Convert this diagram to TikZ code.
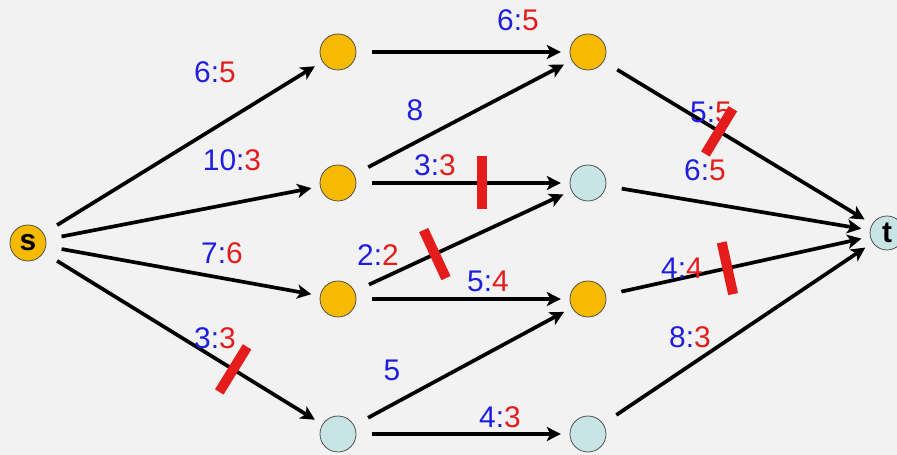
\documentclass[tikz,border=0pt]{standalone}
\usepackage{fontspec}
\setmainfont{Liberation Sans}
\usetikzlibrary{arrows.meta}
\definecolor{capblue}{RGB}{30,30,220}
\definecolor{flowred}{RGB}{228,28,28}
\definecolor{fullvx}{RGB}{246,186,0}
\definecolor{freevx}{RGB}{200,228,228}
\definecolor{paper}{RGB}{242,242,242}
\newcommand{\fl}[2]{\textcolor{capblue}{#1:}\textcolor{flowred}{#2}}
\tikzset{>={Stealth[length=8pt,width=8pt,inset=2pt]},font=\fontsize{17}{20}\selectfont}

\begin{document}
\begin{tikzpicture}[
  vx/.style={circle,draw=black!75,thin,minimum size=0.72cm,inner sep=0pt},
  hit/.style={vx,fill=fullvx},
  miss/.style={vx,fill=freevx},
  arc/.style={->,line width=2.1pt,shorten <=9pt,shorten >=5pt},
  cut/.style={sloped,fill=flowred,minimum width=0.2cm,minimum height=1.06cm,inner sep=0pt},
  lbl/.style={inner sep=1pt}]
\fill[paper] (0,0) rectangle (17.94,-9.1);
\useasboundingbox (0,0) rectangle (17.94,-9.1);

% vertices
\node[hit] (s) at (0.56,-4.86) {\bfseries s};
\node[hit] (a1) at (6.76,-1.04) {};
\node[hit] (a2) at (6.76,-3.66) {};
\node[hit] (a3) at (6.76,-5.98) {};
\node[miss] (a4) at (6.76,-8.68) {};
\node[hit] (b1) at (11.76,-1.04) {};
\node[miss] (b2) at (11.76,-3.66) {};
\node[hit] (b3) at (11.76,-5.98) {};
\node[miss] (b4) at (11.76,-8.68) {};
\node[miss,minimum size=0.68cm] (t) at (17.74,-4.66) {\bfseries t};

% arcs
\path[arc] (s) edge (a1);
\path[arc] (s) edge (a2);
\path[arc] (s) edge (a3);
\path[arc] (s) edge node[cut,pos=0.68] {} (a4);
\path[arc] (a1) edge (b1);
\path[arc] (a2) edge (b1);
\path[arc] (a2) edge node[cut,pos=0.59] {} (b2);
\path[arc] (a3) edge node[cut,pos=0.37] {} (b2);
\path[arc] (a3) edge (b3);
\path[arc] (a4) edge (b3);
\path[arc] (a4) edge (b4);
\path[arc] (b1) edge node[cut,pos=0.43] {} (t);
\path[arc] (b2) edge (t);
\path[arc] (b3) edge node[cut,pos=0.46] {} (t);
\path[arc] (b4) edge (t);

% capacity : flow
\node[lbl] (f1) at (4.30,-1.44) {\fl{6}{5}};
\node[lbl] (f2) at (4.64,-3.20) {\fl{10}{3}};
\node[lbl] (f3) at (4.44,-5.06) {\fl{7}{6}};
\node[lbl] (f4) at (4.30,-6.76) {\fl{3}{3}};
\node[lbl] (f5) at (10.36,-0.40) {\fl{6}{5}};
\node[lbl,text=capblue] (f6) at (8.30,-2.20) {8};
\node[lbl] (f7) at (8.70,-3.30) {\fl{3}{3}};
\node[lbl] (f8) at (7.56,-5.10) {\fl{2}{2}};
\node[lbl] (f9) at (9.76,-5.62) {\fl{5}{4}};
\node[lbl,text=capblue] (f10) at (7.84,-7.40) {5};
\node[lbl] (f11) at (10.00,-8.34) {\fl{4}{3}};
\node[lbl] (f12) at (14.22,-2.24) {\fl{5}{5}};
\node[lbl] (f13) at (14.10,-3.40) {\fl{6}{5}};
\node[lbl] (f14) at (13.64,-5.36) {\fl{4}{4}};
\node[lbl] (f15) at (13.80,-6.74) {\fl{8}{3}};
\end{tikzpicture}
\end{document}
